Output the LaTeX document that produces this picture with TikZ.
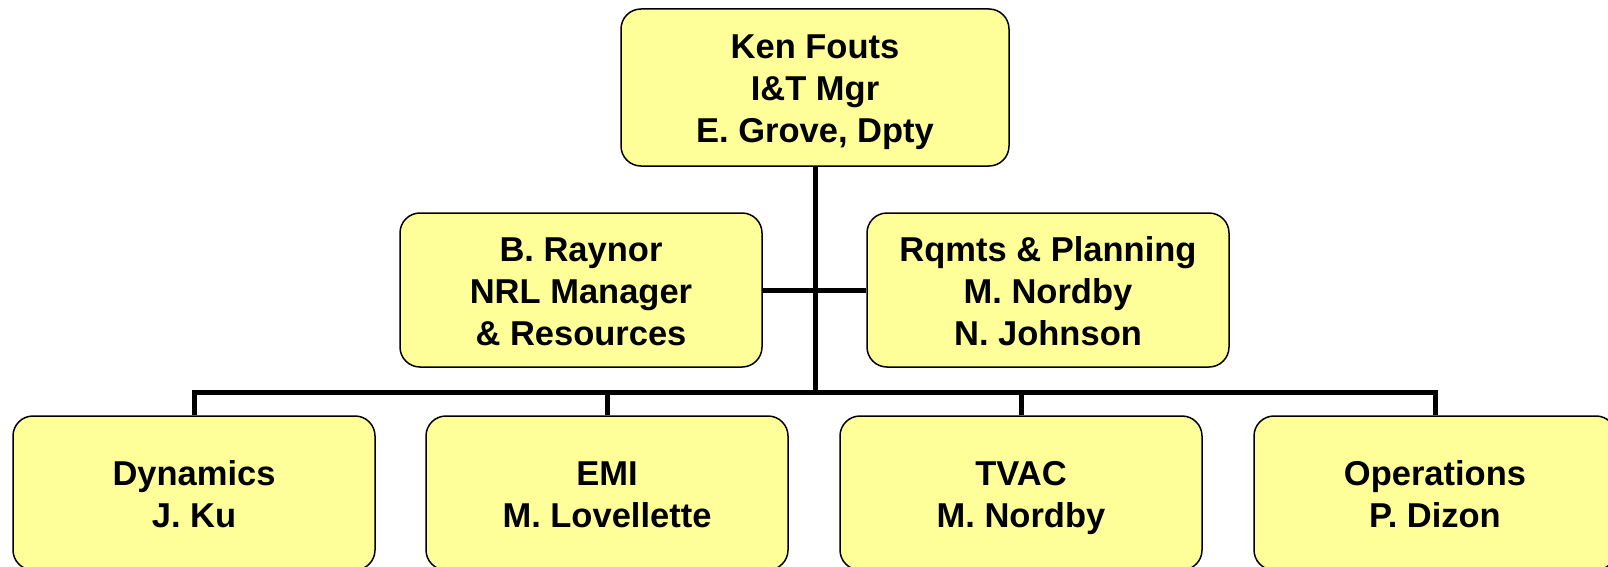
\documentclass[tikz,border=0pt]{standalone}
\usepackage{fontspec}
\setmainfont{Liberation Sans}
\usepackage{xcolor}
\usepackage{tikz}
\usetikzlibrary{positioning,calc}
\definecolor{boxyellow}{HTML}{FFFF99}
\newcommand{\hirow}{\rule{0pt}{40pt}}
\newcommand{\lorow}{\rule[-14pt]{0pt}{14pt}}
\tikzset{
	orgbox/.style={
		rectangle,
		draw=black,
		line width=1.5pt,
		fill=boxyellow,
		rounded corners=20pt,
		minimum width=362pt,
		minimum height=154pt,
		align=center,
		inner sep=0pt,
		font=\fontsize{34.5}{42}\selectfont\bfseries
	},
	wire/.style={
		line width=5pt
	}
}

\begin{document}
\begin{tikzpicture}[x=1pt, y=-1pt]
	\useasboundingbox (0,0) rectangle (1608,567);
	\clip (0,0) rectangle (1608,567);
	
	%--------------------
	% Manager
	%--------------------
	\node[orgbox, minimum width=388pt, minimum height=157pt] (mgr) at (815,87.5) {\hirow Ken Fouts\\I\&T Mgr\\E. Grove, Dpty\lorow};
	
	%--------------------
	% Staff
	%--------------------
	\node[orgbox] (nrl)  at (581,290)  {\hirow B. Raynor\\NRL Manager\\\& Resources\lorow};
	\node[orgbox] (plan) at (1048,290) {\hirow Rqmts \& Planning\\M. Nordby\\N. Johnson\lorow};
	
	%--------------------
	% Groups
	%--------------------
	\node[orgbox] (dyn)  at (194,493)  {\hirow Dynamics\\J. Ku\lorow};
	\node[orgbox] (emi)  at (607,493)  {\hirow EMI\\M. Lovellette\lorow};
	\node[orgbox] (tvac) at (1021,493) {\hirow TVAC\\M. Nordby\lorow};
	\node[orgbox] (ops)  at (1435,493) {\hirow Operations\\P. Dizon\lorow};
	
	\coordinate (bus) at (815,392);
	
	%--------------------
	% Connections
	%--------------------
	\draw[wire] (mgr.south) -- (bus);
	\draw[wire] (nrl.east) -- (plan.west);
	\draw[wire] (dyn.north) |- (bus) -| (ops.north);
	\draw[wire] (emi.north) -- (emi.north |- bus);
	\draw[wire] (tvac.north) -- (tvac.north |- bus);
	
\end{tikzpicture}
\end{document}
